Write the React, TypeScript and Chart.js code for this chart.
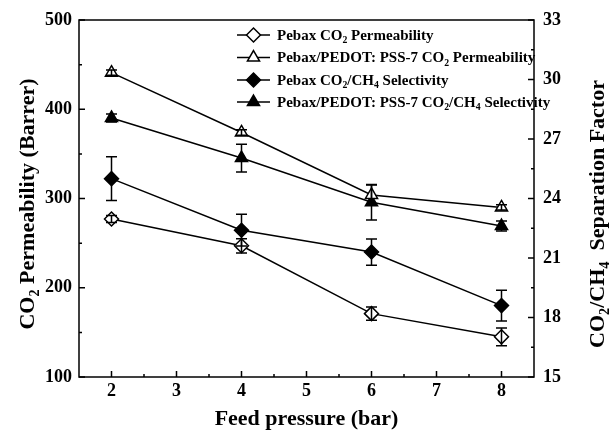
import { useEffect, useRef } from "react";
import { Chart, registerables } from "chart.js";
Chart.register(...registerables);

// ---- data ----
const pressures = [2, 4, 6, 8];
const pebaxPerm = [277, 247, 171, 145];
const pebaxPermErr = [4, 8, 7.5, 10];
const pedotPerm = [441, 374, 304, 290];
const pedotPermErr = [3, 3, 11, 3];
const pebaxSel = [25.0, 22.4, 21.3, 18.6];
const pebaxSelErr = [1.1, 0.8, 0.66, 0.78];
const pedotSel = [28.06, 26.04, 23.81, 22.61];
const pedotSelErr = [0.2, 0.7, 0.9, 0.25];

const xTicks = [2, 3, 4, 5, 6, 7, 8];
const xMinorTicks = [2.5, 3.5, 4.5, 5.5, 6.5, 7.5];
const leftTicks = [100, 200, 300, 400, 500];
const leftMinorTicks = [150, 250, 350, 450];
const rightTicks = [15, 18, 21, 24, 27, 30, 33];
const rightMinorTicks = [16.5, 19.5, 22.5, 25.5, 28.5, 31.5];

type Part = [string, boolean];
const legendLabels: Part[][] = [
  [["Pebax CO", false], ["2", true], [" Permeability", false]],
  [["Pebax/PEDOT: PSS-7 CO", false], ["2", true], [" Permeability", false]],
  [["Pebax CO", false], ["2", true], ["/CH", false], ["4", true], [" Selectivity", false]],
  [["Pebax/PEDOT: PSS-7 CO", false], ["2", true], ["/CH", false], ["4", true], [" Selectivity", false]],
];
const xTitle: Part[] = [["Feed pressure (bar)", false]];
const yTitle: Part[] = [["CO", false], ["2", true], [" Permeability (Barrer)", false]];
const y1Title: Part[] = [["CO", false], ["2", true], ["/CH", false], ["4", true], ["  Separation Factor", false]];

const FONT = '"Liberation Serif", "Times New Roman", serif';

function setFont(ctx: CanvasRenderingContext2D, size: number) {
  ctx.font = `bold ${size}px ${FONT}`;
}
function richWidth(ctx: CanvasRenderingContext2D, parts: Part[], size: number) {
  let w = 0;
  for (const [t, sub] of parts) {
    setFont(ctx, sub ? size * 0.65 : size);
    w += ctx.measureText(t).width;
  }
  return w;
}
// draws with x = left (or center) and y = visual middle
function drawRich(ctx: CanvasRenderingContext2D, parts: Part[], x: number, y: number, size: number, align: "left" | "center") {
  const w = richWidth(ctx, parts, size);
  let cx = align === "center" ? x - w / 2 : x;
  const base = y + size * 0.33;
  ctx.textAlign = "left";
  ctx.textBaseline = "alphabetic";
  for (const [t, sub] of parts) {
    const s = sub ? size * 0.65 : size;
    setFont(ctx, s);
    ctx.fillText(t, cx, sub ? base + size * 0.22 : base);
    cx += ctx.measureText(t).width;
  }
}

function drawMarker(ctx: CanvasRenderingContext2D, style: string, x: number, y: number, r: number, fill: string) {
  ctx.beginPath();
  if (style === "rectRot") {
    ctx.moveTo(x - r, y);
    ctx.lineTo(x, y - r);
    ctx.lineTo(x + r, y);
    ctx.lineTo(x, y + r);
  } else {
    let rad = 0;
    ctx.moveTo(x + Math.sin(rad) * r, y - Math.cos(rad) * r);
    rad += (2 * Math.PI) / 3;
    ctx.lineTo(x + Math.sin(rad) * r, y - Math.cos(rad) * r);
    rad += (2 * Math.PI) / 3;
    ctx.lineTo(x + Math.sin(rad) * r, y - Math.cos(rad) * r);
  }
  ctx.closePath();
  ctx.fillStyle = fill;
  ctx.fill();
  ctx.lineWidth = 1.5;
  ctx.strokeStyle = "#000";
  ctx.stroke();
}

const errors = [pebaxPermErr, pedotPermErr, pebaxSelErr, pedotSelErr];
const values = [pebaxPerm, pedotPerm, pebaxSel, pedotSel];

const decorPlugin = {
  id: "decor",
  afterDatasetsDraw(chart: any) {
    const ctx: CanvasRenderingContext2D = chart.ctx;
    const xs = chart.scales.x;
    ctx.save();
    ctx.strokeStyle = "#000";
    ctx.lineWidth = 1.5;
    chart.data.datasets.forEach((ds: any, i: number) => {
      const ys = chart.scales[ds.yAxisID];
      pressures.forEach((p, j) => {
        const v = values[i][j];
        const e = errors[i][j];
        const px = xs.getPixelForValue(p);
        const t = ys.getPixelForValue(v + e);
        const b = ys.getPixelForValue(v - e);
        ctx.beginPath();
        ctx.moveTo(px, t);
        ctx.lineTo(px, b);
        ctx.moveTo(px - 5.5, t);
        ctx.lineTo(px + 5.5, t);
        ctx.moveTo(px - 5.5, b);
        ctx.lineTo(px + 5.5, b);
        ctx.stroke();
      });
    });
    ctx.restore();
  },
  afterDraw(chart: any) {
    const ctx: CanvasRenderingContext2D = chart.ctx;
    const { left, right, top, bottom } = chart.chartArea;
    const xs = chart.scales.x;
    const yl = chart.scales.y;
    const yr = chart.scales.y1;
    ctx.save();
    ctx.strokeStyle = "#000";
    ctx.fillStyle = "#000";
    ctx.lineWidth = 1.5;
    ctx.strokeRect(left, top, right - left, bottom - top);
    ctx.beginPath();
    for (const v of xTicks) {
      const p = xs.getPixelForValue(v);
      ctx.moveTo(p, bottom);
      ctx.lineTo(p, bottom - 6);
    }
    for (const v of xMinorTicks) {
      const p = xs.getPixelForValue(v);
      ctx.moveTo(p, bottom);
      ctx.lineTo(p, bottom - 3);
    }
    for (const v of leftTicks) {
      const p = yl.getPixelForValue(v);
      ctx.moveTo(left, p);
      ctx.lineTo(left + 6, p);
    }
    for (const v of leftMinorTicks) {
      const p = yl.getPixelForValue(v);
      ctx.moveTo(left, p);
      ctx.lineTo(left + 3, p);
    }
    for (const v of rightTicks) {
      const p = yr.getPixelForValue(v);
      ctx.moveTo(right, p);
      ctx.lineTo(right - 6, p);
    }
    for (const v of rightMinorTicks) {
      const p = yr.getPixelForValue(v);
      ctx.moveTo(right, p);
      ctx.lineTo(right - 3, p);
    }
    ctx.stroke();

    // tick labels
    setFont(ctx, 18);
    ctx.textBaseline = "middle";
    ctx.textAlign = "center";
    for (const v of xTicks) ctx.fillText(String(v), xs.getPixelForValue(v), bottom + 14);
    ctx.textAlign = "right";
    for (const v of leftTicks) ctx.fillText(String(v), left - 7, yl.getPixelForValue(v));
    ctx.textAlign = "left";
    for (const v of rightTicks) ctx.fillText(String(v), right + 9, yr.getPixelForValue(v));

    // titles
    drawRich(ctx, xTitle, (left + right) / 2, bottom + 41, 22, "center");
    ctx.save();
    ctx.translate(27, 204);
    ctx.rotate(-Math.PI / 2);
    drawRich(ctx, yTitle, 0, 0, 22, "center");
    ctx.restore();
    ctx.save();
    ctx.translate(597, 214);
    ctx.rotate(-Math.PI / 2);
    drawRich(ctx, y1Title, 0, 0, 22, "center");
    ctx.restore();

    // legend
    const rowY = [35, 57.5, 80, 102];
    chart.data.datasets.forEach((ds: any, i: number) => {
      const y = rowY[i];
      ctx.beginPath();
      ctx.moveTo(237, y);
      ctx.lineTo(270, y);
      ctx.lineWidth = 1.5;
      ctx.stroke();
      drawMarker(ctx, ds.pointStyle, 253.5, y, 7, ds.pointBackgroundColor);
      ctx.fillStyle = "#000";
      drawRich(ctx, legendLabels[i], 277, y, 15, "left");
    });
    ctx.restore();
  },
};

export default function App() {
  const ref = useRef<HTMLCanvasElement>(null);
  useEffect(() => {
    if (!ref.current) return;
    const mk = (vals: number[]) => pressures.map((p, i) => ({ x: p, y: vals[i] }));
    const base = {
      borderColor: "#000",
      borderWidth: 1.5,
      pointBorderColor: "#000",
      pointBorderWidth: 1.5,
      pointRadius: 7,
      tension: 0,
      fill: false,
    };
    const chart = new Chart(ref.current, {
      type: "line",
      data: {
        datasets: [
          { ...base, label: "Pebax CO2 Permeability", data: mk(pebaxPerm), yAxisID: "y", pointStyle: "rectRot", pointBackgroundColor: "#fff" },
          { ...base, label: "Pebax/PEDOT: PSS-7 CO2 Permeability", data: mk(pedotPerm), yAxisID: "y", pointStyle: "triangle", pointBackgroundColor: "#fff" },
          { ...base, label: "Pebax CO2/CH4 Selectivity", data: mk(pebaxSel), yAxisID: "y1", pointStyle: "rectRot", pointBackgroundColor: "#000" },
          { ...base, label: "Pebax/PEDOT: PSS-7 CO2/CH4 Selectivity", data: mk(pedotSel), yAxisID: "y1", pointStyle: "triangle", pointBackgroundColor: "#000" },
        ] as any,
      },
      options: {
        responsive: false,
        animation: false,
        layout: { padding: { left: 79, right: 79, top: 20, bottom: 55 } },
        plugins: { legend: { display: false }, tooltip: { enabled: false } },
        scales: {
          x: { type: "linear", min: 1.5, max: 8.5, display: false },
          y: { type: "linear", position: "left", min: 100, max: 500, display: false },
          y1: { type: "linear", position: "right", min: 15, max: 33, display: false },
        },
      },
      plugins: [decorPlugin],
    });
    return () => chart.destroy();
  }, []);
  return (
    <div style={{ position: "absolute", left: 0, top: 0, width: 613, height: 432, background: "#fff" }}>
      <canvas ref={ref} width={613} height={432} style={{ display: "block" }} />
    </div>
  );
}
